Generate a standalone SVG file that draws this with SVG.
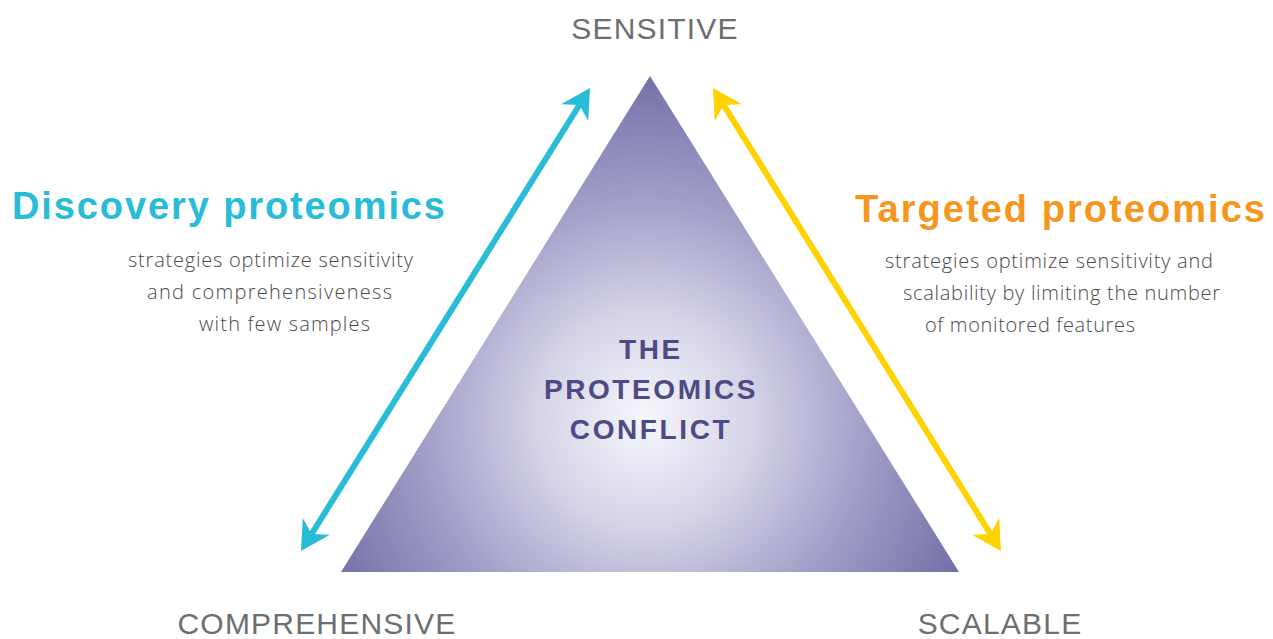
<svg xmlns="http://www.w3.org/2000/svg" width="1273" height="639" viewBox="0 0 1273 639">
  <style>
    .corner { font-family: "Liberation Sans", Arial, sans-serif; font-size: 30px; fill: #6d6e71; letter-spacing: 1.2px; text-anchor: middle; }
    .title { font-family: "Liberation Sans", Arial, sans-serif; font-size: 38px; font-weight: bold; }
    .body { font-family: "Open Sans", "Liberation Sans", sans-serif; font-weight: 300; font-size: 20px; fill: #4a4a4c; }
    .center { font-family: "Liberation Sans", Arial, sans-serif; font-size: 28px; font-weight: bold; fill: #4e4a85; text-anchor: middle; letter-spacing: 2.6px; }
    .arrow { fill: none; stroke-width: 6; }
  </style>
  <defs>
    <radialGradient id="glow" cx="645" cy="420" r="345" gradientUnits="userSpaceOnUse">
      <stop offset="0" stop-color="#f6f6fb"/>
      <stop offset="0.3" stop-color="#d6d5e8"/>
      <stop offset="0.65" stop-color="#a09dc7"/>
      <stop offset="1" stop-color="#7470a8"/>
    </radialGradient>
    <marker id="headBlue" viewBox="-30 -17 31 34" markerWidth="31" markerHeight="34" refX="-20" refY="0" orient="auto-start-reverse" markerUnits="userSpaceOnUse">
      <path d="M0,0 L-29,-16 L-20,0 L-29,16 Z" fill="#28bcd8"/>
    </marker>
    <marker id="headYellow" viewBox="-30 -17 31 34" markerWidth="31" markerHeight="34" refX="-20" refY="0" orient="auto-start-reverse" markerUnits="userSpaceOnUse">
      <path d="M0,0 L-29,-16 L-20,0 L-29,16 Z" fill="#ffd200"/>
    </marker>
  </defs>

  <rect width="1273" height="639" fill="#ffffff"/>

  <!-- central triangle -->
  <g id="conflict">
    <polygon points="650,76 341,572 959,572" fill="url(#glow)"/>
    <text class="center" x="651" y="359">THE</text>
    <text class="center" x="651" y="399">PROTEOMICS</text>
    <text class="center" x="651" y="439">CONFLICT</text>
  </g>

  <!-- corner labels -->
  <g id="sensitive">
    <text class="corner" x="655" y="39">SENSITIVE</text>
  </g>
  <g id="comprehensive">
    <text class="corner" x="317" y="634">COMPREHENSIVE</text>
  </g>
  <g id="scalable">
    <text class="corner" x="1000" y="634">SCALABLE</text>
  </g>

  <!-- discovery side -->
  <g id="discovery">
    <text class="title" x="12" y="219" fill="#28bcd8" textLength="433" lengthAdjust="spacing">Discovery proteomics</text>
    <text class="body" x="128" y="267" textLength="285" lengthAdjust="spacing">strategies optimize sensitivity</text>
    <text class="body" x="147" y="299" textLength="245" lengthAdjust="spacing">and comprehensiveness</text>
    <text class="body" x="199" y="331" textLength="171" lengthAdjust="spacing">with few samples</text>
  </g>

  <!-- targeted side -->
  <g id="targeted">
    <text class="title" x="855" y="222" fill="#f7961d" textLength="410" lengthAdjust="spacing">Targeted proteomics</text>
    <text class="body" x="885" y="268" textLength="328" lengthAdjust="spacing">strategies optimize sensitivity and</text>
    <text class="body" x="903" y="300" textLength="317" lengthAdjust="spacing">scalability by limiting the number</text>
    <text class="body" x="925" y="332" textLength="210" lengthAdjust="spacing">of monitored features</text>
  </g>

  <!-- double-headed connectors -->
  <g id="connectors">
    <path class="arrow" d="M311.6,534 L579.4,105" stroke="#28bcd8" marker-start="url(#headBlue)" marker-end="url(#headBlue)"/>
    <path class="arrow" d="M723.6,105 L990.4,534" stroke="#ffd200" marker-start="url(#headYellow)" marker-end="url(#headYellow)"/>
  </g>
</svg>
